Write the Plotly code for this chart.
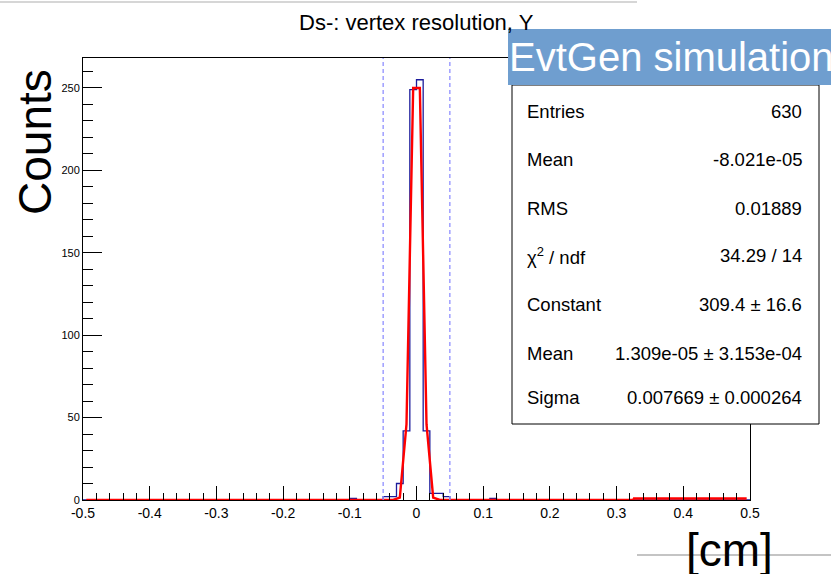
import numpy as np
import plotly.graph_objects as go

# ---------------- data ----------------
# histogram (bin width 0.01 cm, range -0.5 .. 0.5): non-empty bins
bin_left_edges = [-0.10, -0.05, -0.04, -0.03, -0.02, -0.01, 0.00, 0.01, 0.02, 0.03, 0.04, 0.11]
bin_counts     = [1,      2,     2,     10,    42,    249,   255,  42,   4,    4,    2,    1]

# fitted gaussian as drawn (red polyline)
fit_x = [-0.495, -0.035, -0.025, -0.015, -0.005, 0.005, 0.015, 0.025, 0.035, 0.325, 0.326, 0.495]
fit_y = [0,       0,      1.5,    46,     250,    250,   46,    1.5,   0,     0,     0.9,   0.9]

# dashed selection window
window_x = [-0.05, 0.05]

x_tick_vals = [-0.5, -0.4, -0.3, -0.2, -0.1, 0, 0.1, 0.2, 0.3, 0.4, 0.5]
x_tick_text = ["-0.5", "-0.4", "-0.3", "-0.2", "-0.1", "0", "0.1", "0.2", "0.3", "0.4", "0.5"]
y_tick_vals = [0, 50, 100, 150, 200, 250]
y_tick_text = ["0", "50", "100", "150", "200", "250"]

title_text = "Ds-: vertex resolution, Y"
stats_labels = ["Entries", "Mean", "RMS", "χ<sup>2</sup> / ndf", "Constant", "Mean", "Sigma"]
stats_values = ["630", "-8.021e-05", "0.01889", "34.29 / 14", "309.4 ± 16.6",
                "1.309e-05 ± 3.153e-04", "0.007669 ± 0.000264"]

# ---------------- build histogram steps ----------------
bin_width = 0.01
edges = np.round(np.linspace(-0.5, 0.5, 101), 4)
counts = np.zeros(100)
for lo, c in zip(bin_left_edges, bin_counts):
    idx = int(round((lo + 0.5) / bin_width))
    counts[idx] = c
step_y = np.append(counts, counts[-1])

W, H = 831, 574
L, R, T, B = 83, 750, 58, 500   # plot area in pixels


def px(xp):
    return (xp - L) / (R - L)


def py(yp):
    return (B - yp) / (B - T)


FONT = "Liberation Sans, Arial, sans-serif"

fig = go.Figure()
fig.add_trace(go.Scatter(x=edges, y=step_y, mode="lines", line=dict(color="#1c1c9c", width=1.3, shape="hv"),
                         hoverinfo="skip", showlegend=False))
fig.add_trace(go.Scatter(x=fit_x, y=fit_y, mode="lines", line=dict(color="#ff0000", width=2.4),
                         hoverinfo="skip", showlegend=False))

shapes = []
for wx in window_x:
    shapes.append(dict(type="line", xref="x", yref="paper", x0=wx, x1=wx, y0=0, y1=1,
                       line=dict(color="#8f8fff", width=1.3, dash="4px,3px"), layer="above"))

# stats box
shapes.append(dict(type="rect", xref="paper", yref="paper", x0=px(512), x1=px(819), y0=py(424), y1=py(85),
                   fillcolor="white", line=dict(color="black", width=1), layer="above"))
# EvtGen banner
shapes.append(dict(type="rect", xref="paper", yref="paper", x0=px(508), x1=px(833), y0=py(85), y1=py(29),
                   fillcolor="#6f9ecf", line=dict(color="#6f9ecf", width=0), layer="above"))
# thin grey lines of the slide
shapes.append(dict(type="line", xref="paper", yref="paper", x0=px(0), x1=px(637), y0=py(2), y1=py(2),
                   line=dict(color="#c8c8c8", width=1.5), layer="above"))
shapes.append(dict(type="line", xref="paper", yref="paper", x0=px(637), x1=px(831), y0=py(555), y1=py(555),
                   line=dict(color="#b0b0b0", width=1.5), layer="below"))

annotations = []
annotations.append(dict(text=title_text, xref="paper", yref="paper", x=px(416.5), y=py(22),
                        xanchor="center", yanchor="middle", showarrow=False,
                        font=dict(family=FONT, size=22, color="black")))
row_y = [111, 159, 208, 256, 304, 353, 398]
for lab, val, ry in zip(stats_labels, stats_values, row_y):
    annotations.append(dict(text=lab, xref="paper", yref="paper", x=px(525), y=py(ry), xanchor="left",
                            yanchor="middle", showarrow=False, font=dict(family=FONT, size=18.5, color="black")))
    annotations.append(dict(text=val, xref="paper", yref="paper", x=px(804), y=py(ry), xanchor="right",
                            yanchor="middle", showarrow=False, font=dict(family=FONT, size=18.5, color="black")))
annotations.append(dict(text="EvtGen simulation", xref="paper", yref="paper", x=px(507), y=py(57),
                        xanchor="left", yanchor="middle", showarrow=False,
                        font=dict(family=FONT, size=40, color="white")))
annotations.append(dict(text="Counts", xref="paper", yref="paper", x=px(35), y=py(142), textangle=-90,
                        xanchor="center", yanchor="middle", showarrow=False,
                        font=dict(family=FONT, size=46, color="black")))
annotations.append(dict(text="[cm]", xref="paper", yref="paper", x=px(729), y=py(550),
                        xanchor="center", yanchor="middle", showarrow=False,
                        font=dict(family=FONT, size=46, color="black")))

fig.update_layout(
    width=W, height=H,
    margin=dict(l=L, r=W - R, t=T, b=H - B, pad=0),
    paper_bgcolor="white", plot_bgcolor="white",
    shapes=shapes, annotations=annotations,
    xaxis=dict(range=[-0.5, 0.5], tickvals=x_tick_vals, ticktext=x_tick_text,
               ticks="inside", ticklen=14, tickwidth=1, tickcolor="black",
               minor=dict(dtick=0.02, tick0=0, ticks="inside", ticklen=7, tickcolor="black", tickwidth=1),
               showline=True, linecolor="black", linewidth=1, mirror=True,
               showgrid=False, zeroline=False,
               tickfont=dict(family=FONT, size=14, color="black")),
    yaxis=dict(range=[0, 268.2], tickvals=y_tick_vals, ticktext=y_tick_text,
               ticks="inside", ticklen=19, tickwidth=1, tickcolor="black",
               minor=dict(dtick=10, tick0=0, ticks="inside", ticklen=10, tickcolor="black", tickwidth=1),
               showline=True, linecolor="black", linewidth=1, mirror=True,
               showgrid=False, zeroline=False,
               tickfont=dict(family=FONT, size=11, color="black")),
)

fig.write_html("out.html", config={"displayModeBar": False},
               post_script="document.body.style.margin='0px';document.body.style.overflow='hidden';")
